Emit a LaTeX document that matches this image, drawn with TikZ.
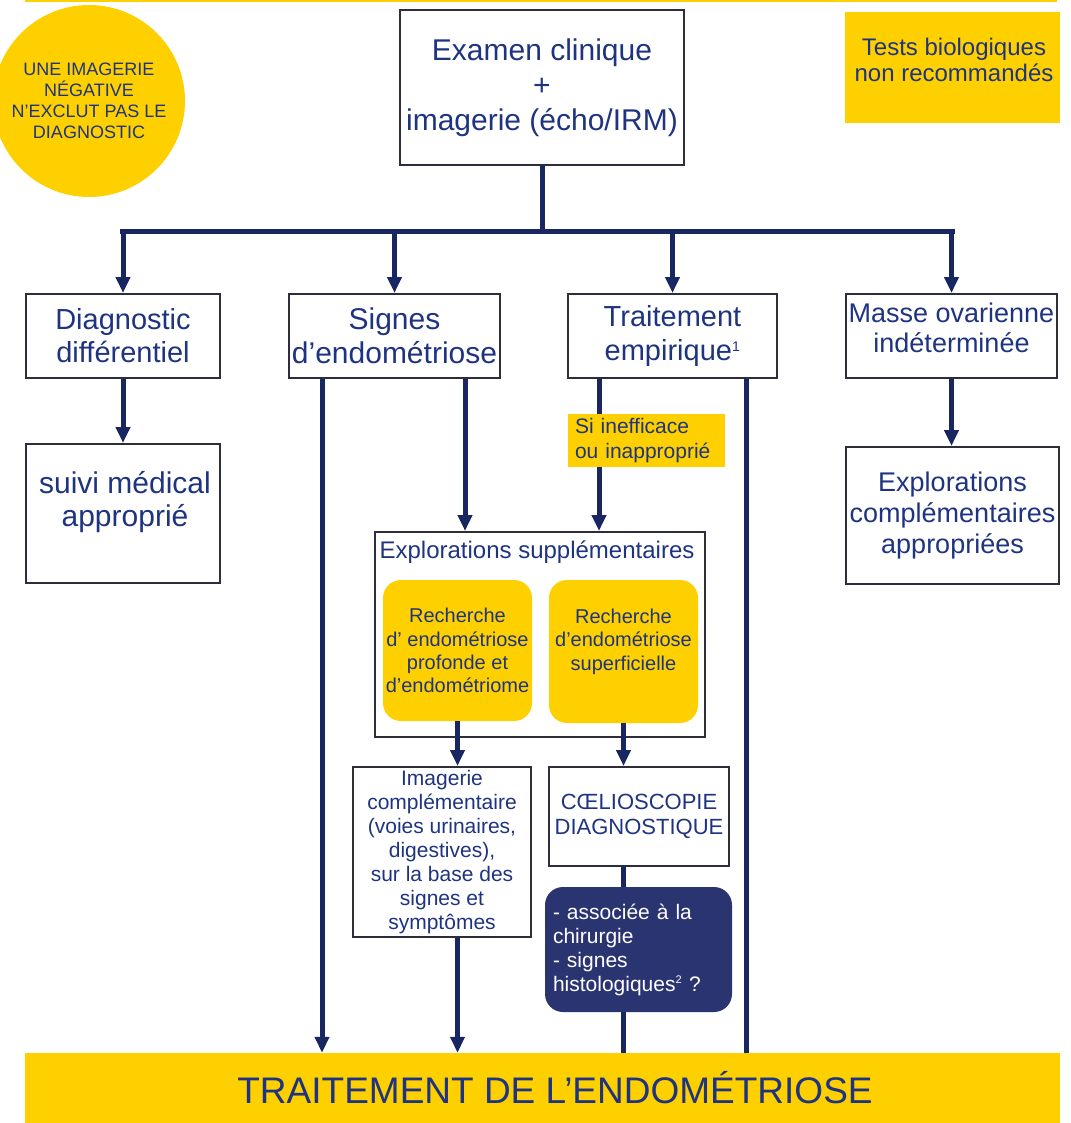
\documentclass[tikz,border=0pt]{standalone}
\usepackage{fontspec}
\setmainfont{Liberation Sans}
\usetikzlibrary{arrows.meta,positioning}
\definecolor{navytext}{RGB}{31,52,128}
\definecolor{navyline}{RGB}{24,38,98}
\definecolor{boxframe}{RGB}{45,45,60}
\definecolor{endoyellow}{RGB}{255,208,0}
\definecolor{darkbox}{RGB}{42,52,112}
\newcommand{\fs}[2]{\fontsize{#1}{#2}\selectfont}

\begin{document}
\begin{tikzpicture}[x=1pt,y=-1pt,
plainbox/.style={rectangle, draw=boxframe, line width=2pt, fill=white, inner sep=0pt, align=center, text=navytext},
yellowbox/.style={rectangle, fill=endoyellow, inner sep=0pt, text=navytext},
roundbox/.style={rectangle, rounded corners=18pt, fill=endoyellow, inner sep=0pt, align=center, text=navytext, minimum width=149pt},
plaintext/.style={text=navytext, align=center, inner sep=0pt},
wire/.style={draw=navyline, line width=5pt},
flow/.style={wire, -{Triangle[length=16pt,width=14pt]}},
]
\useasboundingbox (0,0) rectangle (1070,1123);
\fill[endoyellow] (25,0) rectangle (1057,2.5);

\node[circle, fill=endoyellow, minimum size=192pt, inner sep=0pt, align=center, text=navytext, font=\fs{18}{21}] (warn) at (89,101) {UNE IMAGERIE\\NÉGATIVE\\N’EXCLUT PAS LE\\DIAGNOSTIC};
\node[plainbox, minimum width=284pt, minimum height=155pt, font=\fs{30}{35}] (exam) at (542,87.5) {Examen clinique\\+\\imagerie (écho/IRM)};
\node[yellowbox, minimum width=215pt, minimum height=111pt] (tests) at (952.5,67.5) {};
\node[plaintext, font=\fs{24}{26}] (teststxt) at (954,60) {Tests biologiques\\non recommandés};

\node[plainbox, minimum width=194pt, minimum height=84pt, font=\fs{29}{33}] (diag) at (123,336) {Diagnostic\\différentiel};
\node[plainbox, minimum width=211pt, minimum height=84pt, font=\fs{30}{34}] (signes) at (394.5,336) {Signes\\d’endométriose};
\node[plainbox, minimum width=209pt, minimum height=84pt, font=\fs{29}{34}] (traite) at (672.5,336) {Traitement\\empirique\textsuperscript{\fs{14}{14}1}};
\node[plainbox, minimum width=211pt, minimum height=84pt] (masse) at (951.5,336) {};
\node[plaintext, font=\fs{27}{30}] (massetxt) at (951.5,328) {Masse ovarienne\\indéterminée};

\node[plainbox, minimum width=194pt, minimum height=139pt] (suivi) at (123,513.5) {};
\node[plaintext, font=\fs{30}{33}] (suivitxt) at (125,502.5) {suivi médical\\approprié};
\node[plainbox, minimum width=213pt, minimum height=137pt, font=\fs{27}{31}] (explappr) at (952.5,515.5) {Explorations\\complémentaires\\appropriées};

\node[plainbox, minimum width=330pt, minimum height=205pt] (explsup) at (540,634.5) {};
\node[plaintext, font=\fs{24}{28}] (expltitle) at (537,552) {Explorations supplémentaires};
\node[roundbox, minimum height=141pt, font=\fs{20}{23.3}] (rec1) at (457.5,650.5) {Recherche\\d’ endométriose\\profonde et\\d’endométriome};
\node[roundbox, minimum height=143pt] (rec2) at (623.5,651.5) {};
\node[plaintext, font=\fs{20}{23.5}] (rec2txt) at (623.5,641.5) {Recherche\\d’endométriose\\superficielle};

\node[plainbox, minimum width=178pt, minimum height=170pt, font=\fs{21}{24}] (imag) at (442,852) {Imagerie\\complémentaire\\(voies urinaires,\\digestives),\\sur la base des\\signes et\\symptômes};
\node[plainbox, minimum width=180pt, minimum height=99pt, font=\fs{22}{25}] (coelio) at (639,816.5) {CŒLIOSCOPIE\\DIAGNOSTIQUE};
\node[rectangle, rounded corners=18pt, fill=darkbox, text=white, minimum width=187pt, minimum height=125pt, text width=171pt, align=left, inner sep=0pt, font=\fs{21}{24}] (dark) at (638.5,949.5) {- associée à la\\chirurgie\\- signes\\histologiques\textsuperscript{\fs{11}{11}2} ?};

\node[yellowbox, minimum width=1035pt, minimum height=70pt] (bar) at (542.5,1088) {};
\node[plaintext, font=\fs{37}{40}] (bartxt) at (555,1088) {TRAITEMENT DE L’ENDOMÉTRIOSE};

% bus under the first box
\coordinate (busL) at (122,232);
\coordinate (busR) at (952,232);
\draw[wire] (exam.south) -- (exam.south |- busL);
\draw[wire, line cap=rect] (busL) -- (busR);
\draw[flow] (diag.north |- busL) -- (diag.north);
\draw[flow] (signes.north |- busL) -- (signes.north);
\draw[flow] (traite.north |- busL) -- (traite.north);
\draw[flow] (masse.north |- busL) -- (masse.north);

\draw[flow] (diag.south) -- (suivi.north);
\draw[flow] (masse.south) -- (masse.south |- explappr.north);

\coordinate (sgA) at ([xshift=34pt]signes.south west);
\coordinate (sgB) at ([xshift=-36pt]signes.south east);
\coordinate (trA) at ([xshift=32pt]traite.south west);
\coordinate (trB) at ([xshift=-32pt]traite.south east);
\draw[flow] (sgA) -- (sgA |- bar.north);
\draw[flow] (sgB) -- (sgB |- explsup.north);
\draw[flow] (trA) -- (trA |- explsup.north);
\draw[wire] (trB) -- (trB |- bar.north);

\draw[flow] (rec1.south) -- (rec1.south |- imag.north);
\draw[flow] (rec2.south) -- (rec2.south |- coelio.north);
\draw[flow] (rec1.south |- imag.south) -- (rec1.south |- bar.north);
\draw[wire] (rec2.south |- coelio.south) -- (rec2.south |- dark.north);
\draw[wire] (rec2.south |- dark.south) -- (rec2.south |- bar.north);

\node[yellowbox, minimum width=157pt, minimum height=53pt, text width=143pt, align=left, font=\fs{21}{25}] (sinon) at (646.5,440.5) {Si inefficace\\ou inapproprié};
\end{tikzpicture}
\end{document}
